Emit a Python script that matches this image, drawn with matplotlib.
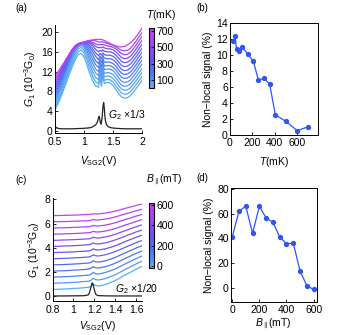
import numpy as np
import matplotlib as mpl
import matplotlib.pyplot as plt
from matplotlib.colors import LinearSegmentedColormap, Normalize

mpl.rcParams['font.family'] = 'Liberation Sans'
mpl.rcParams['mathtext.fontset'] = 'custom'
mpl.rcParams['mathtext.rm'] = 'Liberation Sans'
mpl.rcParams['mathtext.it'] = 'Liberation Sans:italic'
mpl.rcParams['font.size'] = 7.5

# ---- panel (a): G1 vs VSG2 at several temperatures ----
V_a = [0.5, 0.55, 0.6, 0.65, 0.7, 0.75, 0.8, 0.85, 0.9, 0.95, 1.0, 1.05, 1.1, 1.15, 1.2, 1.25,
       1.275, 1.3, 1.325, 1.35,
       1.4, 1.45, 1.5, 1.55, 1.6, 1.65, 1.7, 1.75, 1.8, 1.85, 1.9, 1.95, 2.0]
T_a = [30, 45, 60, 80, 110, 160, 210, 255, 305, 355, 405, 500, 600, 700]
G1_a = [
    [4.2, 5.4, 6.8, 8.3, 9.9, 11.5, 13.0, 14.4, 15.4, 15.7, 15.0, 13.4, 11.6, 10.1, 9.1, 8.8, 10.8, 9.0, 11.2, 9.6, 9.8, 9.7, 9.2, 8.4, 7.5, 6.8, 6.6, 6.7, 7.1, 7.8, 8.6, 9.4, 10.2],
    [4.7, 5.9, 7.3, 8.9, 10.5, 12.1, 13.6, 15.0, 16.0, 16.4, 15.8, 14.3, 12.6, 11.0, 9.9, 9.6, 11.4, 9.8, 11.8, 10.2, 10.4, 10.3, 9.9, 9.1, 8.3, 7.6, 7.4, 7.5, 7.9, 8.6, 9.4, 10.2, 11.0],
    [5.2, 6.5, 7.9, 9.5, 11.1, 12.7, 14.2, 15.6, 16.6, 16.9, 16.4, 15.1, 13.5, 11.9, 10.8, 10.4, 12.1, 10.6, 12.4, 10.9, 11.1, 11.0, 10.6, 9.9, 9.1, 8.4, 8.2, 8.3, 8.7, 9.4, 10.2, 11.0, 11.8],
    [5.8, 7.1, 8.5, 10.1, 11.7, 13.3, 14.8, 16.1, 17.0, 17.3, 16.9, 15.8, 14.3, 12.8, 11.7, 11.2, 12.7, 11.4, 13.0, 11.6, 11.8, 11.7, 11.4, 10.7, 9.9, 9.2, 9.0, 9.1, 9.5, 10.2, 11.0, 11.8, 12.6],
    [6.3, 7.6, 9.0, 10.6, 12.2, 13.8, 15.3, 16.5, 17.3, 17.5, 17.2, 16.3, 15.0, 13.7, 12.5, 12.0, 13.3, 12.2, 13.6, 12.4, 12.5, 12.5, 12.2, 11.5, 10.7, 10.0, 9.8, 9.9, 10.3, 11.0, 11.8, 12.7, 13.5],
    [6.8, 8.1, 9.5, 11.1, 12.7, 14.2, 15.6, 16.8, 17.5, 17.7, 17.5, 16.8, 15.7, 14.5, 13.4, 12.8, 13.9, 13.0, 14.2, 13.1, 13.2, 13.2, 12.9, 12.3, 11.5, 10.8, 10.6, 10.7, 11.1, 11.8, 12.6, 13.5, 14.3],
    [7.3, 8.6, 10.0, 11.5, 13.1, 14.6, 16.0, 17.0, 17.6, 17.8, 17.7, 17.2, 16.3, 15.3, 14.2, 13.6, 14.5, 13.8, 14.7, 13.9, 13.9, 13.9, 13.6, 13.1, 12.3, 11.6, 11.4, 11.5, 11.9, 12.6, 13.4, 14.3, 15.1],
    [7.9, 9.1, 10.5, 12.0, 13.5, 15.0, 16.2, 17.1, 17.6, 17.8, 17.8, 17.5, 16.9, 16.0, 15.1, 14.4, 15.1, 14.6, 15.3, 14.7, 14.6, 14.6, 14.4, 13.9, 13.1, 12.4, 12.2, 12.3, 12.7, 13.4, 14.2, 15.1, 15.9],
    [8.4, 9.6, 11.0, 12.4, 13.9, 15.2, 16.4, 17.2, 17.6, 17.8, 17.8, 17.7, 17.3, 16.6, 15.8, 15.2, 15.7, 15.3, 15.8, 15.4, 15.3, 15.3, 15.1, 14.6, 13.9, 13.2, 13.0, 13.1, 13.5, 14.2, 15.0, 15.9, 16.7],
    [8.9, 10.1, 11.4, 12.8, 14.2, 15.4, 16.5, 17.2, 17.6, 17.8, 17.9, 17.9, 17.7, 17.2, 16.5, 16.0, 16.3, 16.1, 16.4, 16.1, 16.0, 16.0, 15.8, 15.3, 14.7, 14.0, 13.8, 13.9, 14.3, 15.0, 15.8, 16.7, 17.5],
    [9.4, 10.5, 11.7, 13.0, 14.3, 15.5, 16.5, 17.2, 17.6, 17.8, 18.0, 18.0, 17.9, 17.6, 17.1, 16.8, 16.9, 16.8, 17.0, 16.8, 16.6, 16.6, 16.4, 16.0, 15.4, 14.8, 14.6, 14.7, 15.1, 15.8, 16.6, 17.5, 18.3],
    [10.0, 11.0, 12.1, 13.3, 14.5, 15.6, 16.5, 17.1, 17.5, 17.8, 18.0, 18.1, 18.1, 17.9, 17.6, 17.4, 17.5, 17.4, 17.5, 17.4, 17.2, 17.1, 16.9, 16.6, 16.1, 15.6, 15.4, 15.5, 15.9, 16.6, 17.4, 18.3, 19.1],
    [10.5, 11.4, 12.4, 13.5, 14.6, 15.6, 16.4, 17.0, 17.4, 17.7, 18.0, 18.2, 18.3, 18.3, 18.2, 18.0, 18.0, 18.0, 18.0, 17.9, 17.7, 17.5, 17.3, 17.0, 16.6, 16.3, 16.2, 16.3, 16.7, 17.4, 18.2, 19.1, 19.9],
    [11.0, 11.9, 12.8, 13.7, 14.6, 15.4, 16.1, 16.7, 17.2, 17.6, 17.9, 18.1, 18.3, 18.4, 18.5, 18.5, 18.5, 18.5, 18.4, 18.3, 18.0, 17.7, 17.4, 17.2, 17.0, 17.0, 17.1, 17.4, 17.8, 18.4, 19.1, 19.9, 20.8],
]
V_G2a = [0.5, 0.52, 0.55, 0.6, 0.7, 0.8, 0.9, 1.0, 1.1, 1.15, 1.2, 1.225, 1.24, 1.25, 1.26, 1.27,
         1.28, 1.295, 1.31, 1.32, 1.33, 1.34, 1.35, 1.36, 1.37, 1.39, 1.42, 1.47, 1.55, 1.7, 1.85, 2.0]
G2_a = [0.2, 0.7, 0.5, 0.4, 0.4, 0.4, 0.45, 0.5, 0.6, 0.8, 1.2, 1.6, 2.1, 2.6, 2.9, 2.6,
        1.8, 1.3, 2.4, 3.8, 5.2, 5.7, 4.6, 3.0, 2.0, 1.2, 0.8, 0.6, 0.5, 0.4, 0.4, 0.4]

# ---- panel (b): non-local signal vs T ----
T_b = [30, 45, 60, 80, 110, 160, 210, 255, 305, 355, 405, 500, 600, 700]
NL_b = [11.7, 12.4, 10.8, 10.5, 11.0, 10.1, 9.2, 6.8, 7.1, 6.3, 2.5, 1.65, 0.5, 1.0]

# ---- panel (c): G1 vs VSG2 at several in-plane fields (offset) ----
V_c = [0.8, 0.85, 0.9, 0.95, 1.0, 1.05, 1.1, 1.15, 1.17, 1.19, 1.21, 1.23, 1.25,
       1.3, 1.35, 1.4, 1.45, 1.5, 1.55, 1.6, 1.655]
B_c = [0, 50, 100, 150, 200, 250, 300, 350, 400, 450, 500, 550, 600]
G1_c = [
    [0.55, 0.57, 0.59, 0.61, 0.64, 0.66, 0.70, 0.74, 0.83, 1.00, 0.89, 0.84, 0.85, 0.95, 1.10, 1.29, 1.52, 1.77, 1.99, 2.22, 2.45],
    [1.06, 1.08, 1.10, 1.12, 1.14, 1.17, 1.21, 1.24, 1.32, 1.49, 1.38, 1.34, 1.35, 1.44, 1.59, 1.77, 1.99, 2.23, 2.44, 2.66, 2.88],
    [1.57, 1.59, 1.61, 1.62, 1.65, 1.67, 1.71, 1.74, 1.82, 1.97, 1.87, 1.83, 1.85, 1.94, 2.08, 2.25, 2.46, 2.68, 2.89, 3.10, 3.31],
    [2.07, 2.09, 2.10, 2.12, 2.15, 2.17, 2.20, 2.24, 2.31, 2.45, 2.36, 2.32, 2.34, 2.42, 2.55, 2.72, 2.92, 3.13, 3.33, 3.53, 3.73],
    [2.58, 2.60, 2.61, 2.63, 2.65, 2.68, 2.71, 2.74, 2.80, 2.93, 2.85, 2.82, 2.83, 2.91, 3.04, 3.20, 3.39, 3.59, 3.78, 3.97, 4.16],
    [3.09, 3.11, 3.12, 3.14, 3.16, 3.18, 3.21, 3.24, 3.30, 3.42, 3.35, 3.32, 3.33, 3.41, 3.53, 3.68, 3.86, 4.05, 4.23, 4.41, 4.59],
    [3.60, 3.61, 3.63, 3.64, 3.66, 3.69, 3.71, 3.74, 3.80, 3.91, 3.84, 3.81, 3.83, 3.90, 4.02, 4.16, 4.33, 4.52, 4.69, 4.86, 5.03],
    [4.11, 4.12, 4.14, 4.15, 4.17, 4.19, 4.22, 4.25, 4.30, 4.39, 4.33, 4.31, 4.33, 4.39, 4.50, 4.64, 4.80, 4.97, 5.14, 5.30, 5.46],
    [4.61, 4.62, 4.64, 4.65, 4.67, 4.69, 4.71, 4.74, 4.78, 4.87, 4.82, 4.80, 4.81, 4.88, 4.98, 5.11, 5.26, 5.42, 5.58, 5.73, 5.88],
    [5.12, 5.13, 5.14, 5.16, 5.17, 5.19, 5.22, 5.24, 5.28, 5.35, 5.31, 5.30, 5.31, 5.37, 5.47, 5.58, 5.73, 5.88, 6.02, 6.17, 6.31],
    [5.63, 5.64, 5.65, 5.66, 5.68, 5.70, 5.72, 5.74, 5.78, 5.84, 5.81, 5.79, 5.81, 5.86, 5.95, 6.06, 6.20, 6.34, 6.47, 6.61, 6.74],
    [6.14, 6.15, 6.16, 6.17, 6.19, 6.20, 6.22, 6.24, 6.27, 6.33, 6.30, 6.29, 6.31, 6.36, 6.44, 6.54, 6.67, 6.80, 6.92, 7.05, 7.17],
    [6.65, 6.66, 6.67, 6.68, 6.69, 6.71, 6.73, 6.75, 6.77, 6.81, 6.79, 6.79, 6.80, 6.85, 6.93, 7.02, 7.14, 7.26, 7.37, 7.49, 7.60],
]
V_G2c = [0.8, 0.9, 1.0, 1.1, 1.14, 1.155, 1.165, 1.175, 1.18, 1.185, 1.195, 1.205, 1.215, 1.235, 1.3, 1.4, 1.5, 1.655]
G2_c = [0.02, 0.02, 0.03, 0.04, 0.1, 0.3, 0.65, 0.95, 1.1, 1.05, 0.75, 0.4, 0.15, 0.05, 0.03, 0.02, 0.02, 0.02]

# ---- panel (d): non-local signal vs B ----
B_d = [0, 50, 100, 150, 200, 250, 300, 350, 400, 450, 500, 550, 600]
NL_d = [41, 62, 66, 44, 66, 56.5, 53, 41, 35.7, 36, 13.5, 1.6, -1.4]

cmap = LinearSegmentedColormap.from_list('bm', ['#5ab4f2', '#4a78f0', '#6a55ee', '#a745f2', '#c640f0'])
blue = '#2f55f5'

fig = plt.figure(figsize=(3.39, 3.35), dpi=100)


def open_axes(ax):
    ax.spines['top'].set_visible(False)
    ax.spines['right'].set_visible(False)
    ax.tick_params(direction='in', length=2, width=0.6, pad=1.5)
    ax.tick_params(axis='x', pad=3)
    for s in ax.spines.values():
        s.set_linewidth(0.7)


def box_axes(ax):
    ax.tick_params(direction='in', length=2, width=0.6, pad=1.5, top=False, right=False)
    ax.tick_params(axis='x', pad=2.5)
    for s in ax.spines.values():
        s.set_linewidth(0.7)


def add_cbar(rect, vmin, vmax, ticks):
    cax = fig.add_axes(rect)
    sm = mpl.cm.ScalarMappable(norm=Normalize(vmin, vmax), cmap=cmap)
    cb = fig.colorbar(sm, cax=cax, ticks=ticks)
    cb.outline.set_linewidth(0.8)
    cax.tick_params(direction='in', length=2, width=0.6, pad=1.5)
    return cb


# (a)
ax = fig.add_axes([0.162, 0.603, 0.257, 0.322])
norm_a = Normalize(10, 730)
for T, g in zip(T_a, G1_a):
    ax.plot(V_a, g, color=cmap(norm_a(T)), lw=0.9)
ax.plot(V_G2a, G2_a, color='#222222', lw=0.9)
ax.text(1.41, 3.2, '$G_2$ ×1/3', va='center', fontsize=7.5)
ax.set_xlim(0.5, 2.0)
ax.set_ylim(-0.45, 21.4)
ax.set_xticks([0.5, 1, 1.5, 2])
ax.set_xticklabels(['0.5', '1', '1.5', '2'])
ax.set_yticks(range(0, 21, 4))
ax.set_xlabel('$V_{\\rm SG2}$(V)', labelpad=5)
ax.set_ylabel('$G_1$ (10$^{-3}$G$_0$)', labelpad=2)
open_axes(ax)
add_cbar([0.439, 0.738, 0.016, 0.177], 10, 730, [100, 300, 500, 700])
fig.text(0.431, 0.955, '$T$(mK)', va='center', fontsize=7.5)
fig.text(0.045, 0.975, '(a)', va='center', fontsize=7)

# (b)
ax = fig.add_axes([0.678, 0.597, 0.26, 0.334])
ax.plot(T_b, NL_b, '-o', color=blue, ms=2.8, lw=0.9)
ax.set_xlim(0, 785)
ax.set_ylim(-0.05, 14)
ax.set_xticks([0, 200, 400, 600])
ax.set_yticks(range(0, 15, 2))
ax.set_xlabel('$T$(mK)', labelpad=5)
ax.set_ylabel('Non\u2212local signal (%)', labelpad=2)
box_axes(ax)
fig.text(0.58, 0.975, '(b)', va='center', fontsize=7)

# (c)
ax = fig.add_axes([0.155, 0.101, 0.263, 0.307])
norm_c = Normalize(-20, 620)
for B, g in zip(B_c, G1_c):
    ax.plot(V_c, g, color=cmap(norm_c(B)), lw=0.9)
ax.plot(V_G2c, G2_c, color='#222222', lw=0.9)
ax.text(1.40, 0.55, '$G_2$ ×1/20', va='center', fontsize=7.5)
ax.set_xlim(0.8, 1.655)
ax.set_ylim(-0.41, 8.08)
ax.set_xticks([0.8, 1, 1.2, 1.4, 1.6])
ax.set_xticklabels(['0.8', '1', '1.2', '1.4', '1.6'])
ax.set_yticks(range(0, 9, 2))
ax.set_xlabel('$V_{\\rm SG2}$(V)', labelpad=3)
ax.set_ylabel('$G_1$ (10$^{-3}$G$_0$)', labelpad=2)
open_axes(ax)
add_cbar([0.439, 0.200, 0.016, 0.194], -20, 620, [0, 200, 400, 600])
fig.text(0.431, 0.463, '$B_{\\parallel}$(mT)', va='center', fontsize=7.5)
fig.text(0.045, 0.462, '(c)', va='center', fontsize=7)

# (d)
ax = fig.add_axes([0.681, 0.099, 0.253, 0.339])
ax.plot(B_d, NL_d, '-o', color=blue, ms=2.8, lw=0.9)
ax.set_xlim(-10, 622)
ax.set_ylim(-11.4, 80.5)
ax.set_xticks([0, 200, 400, 600])
ax.set_yticks(range(0, 81, 20))
ax.set_xlabel('$B_{\\parallel}$(mT)', labelpad=1)
ax.set_ylabel('Non\u2212local signal (%)', labelpad=2)
box_axes(ax)
fig.text(0.58, 0.47, '(d)', va='center', fontsize=7)

fig.savefig('out.png', dpi=100)
